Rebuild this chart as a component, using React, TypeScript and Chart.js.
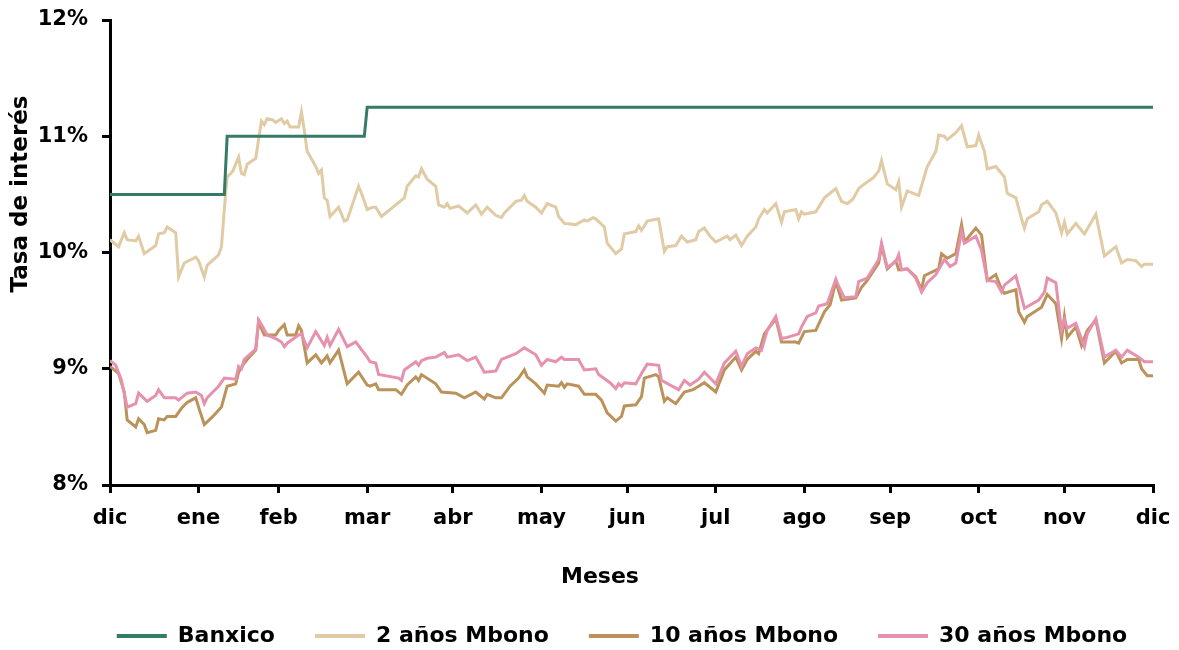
import React, { useEffect, useRef } from 'react';
import { Chart, registerables } from 'chart.js';

Chart.register(...registerables);

// ---------- axis ticks ----------
const monthTickDays = [0, 31, 59, 90, 120, 151, 181, 212, 243, 273, 304, 334, 365];
const monthLabels = ['dic', 'ene', 'feb', 'mar', 'abr', 'may', 'jun', 'jul', 'ago', 'sep', 'oct', 'nov', 'dic'];
const yMin = 8;
const yMax = 12;
const yStep = 1;

const xTitle = 'Meses';
const yTitle = 'Tasa de interés';
const seriesNames = ['Banxico', '2 años Mbono', '10 años Mbono', '30 años Mbono'];

// ---------- Banxico ----------
const banxicoDays = [0, 40, 41, 89, 90, 365];
const banxicoRate = [10.5, 10.5, 11.0, 11.0, 11.25, 11.25];

// ---------- 2 años Mbono ----------
const days2y = [
  0, 3, 5, 6, 9, 10, 12, 16, 17, 19, 20, 23, 24, 26, 30, 31, 33, 34, 38, 39,
  40, 41, 43, 45, 46, 47, 48, 51, 53, 54, 55, 57, 58, 60, 61, 62, 63, 65, 66, 67,
  68, 69, 72, 73, 74, 75, 76, 77, 80, 82, 83, 87, 88, 90, 92, 93, 95, 100, 103, 104,
  107, 108, 109, 111, 114, 115, 117, 118, 119, 122, 125, 128, 130, 132, 135, 137, 138, 142, 144, 145,
  146, 149, 151, 153, 156, 157, 159, 163, 166, 167, 169, 170, 173, 174, 177, 179, 180, 182, 184, 185,
  186, 188, 192, 194, 195, 198, 200, 202, 205, 206, 208, 210, 212, 216, 217, 219, 221, 223, 226, 227,
  229, 230, 233, 235, 236, 240, 241, 242, 243, 247, 250, 251, 254, 256, 258, 260, 262, 264, 267, 269,
  270, 272, 275, 276, 277, 279, 283, 286, 289, 290, 292, 293, 296, 298, 300, 303, 304, 306, 307, 310,
  313, 314, 317, 319, 320, 321, 325, 326, 328, 331, 333, 334, 335, 338, 341, 345, 348, 352, 354, 356,
  359, 361, 362, 365,
];
const rate2y = [
  10.11, 10.05, 10.17, 10.11, 10.10, 10.14, 9.99, 10.06, 10.16, 10.17, 10.22, 10.17, 9.79, 9.91, 9.96, 9.93, 9.79, 9.89, 9.98, 10.05,
  10.37, 10.65, 10.70, 10.82, 10.68, 10.67, 10.76, 10.81, 11.13, 11.10, 11.15, 11.14, 11.12, 11.15, 11.11, 11.13, 11.08, 11.08, 11.08, 11.21,
  11.05, 10.87, 10.74, 10.68, 10.71, 10.47, 10.45, 10.31, 10.39, 10.27, 10.28, 10.57, 10.51, 10.37, 10.39, 10.39, 10.31, 10.41, 10.47, 10.57,
  10.66, 10.65, 10.72, 10.63, 10.57, 10.41, 10.39, 10.42, 10.38, 10.40, 10.34, 10.41, 10.33, 10.39, 10.32, 10.30, 10.34, 10.44, 10.45, 10.49,
  10.44, 10.39, 10.34, 10.42, 10.39, 10.31, 10.25, 10.24, 10.28, 10.27, 10.30, 10.29, 10.22, 10.08, 9.99, 10.03, 10.16, 10.17, 10.18, 10.23,
  10.19, 10.27, 10.29, 10.01, 10.05, 10.06, 10.14, 10.09, 10.11, 10.18, 10.21, 10.14, 10.09, 10.14, 10.11, 10.15, 10.06, 10.14, 10.22, 10.29,
  10.37, 10.34, 10.42, 10.26, 10.35, 10.37, 10.29, 10.35, 10.33, 10.35, 10.47, 10.49, 10.55, 10.44, 10.42, 10.46, 10.55, 10.59, 10.64, 10.70,
  10.79, 10.59, 10.54, 10.61, 10.39, 10.53, 10.49, 10.74, 10.87, 11.01, 11.00, 10.97, 11.03, 11.09, 10.91, 10.92, 11.01, 10.87, 10.72, 10.74,
  10.65, 10.51, 10.47, 10.29, 10.21, 10.29, 10.35, 10.41, 10.44, 10.34, 10.17, 10.26, 10.16, 10.25, 10.16, 10.33, 9.97, 10.05, 9.91, 9.94,
  9.93, 9.88, 9.90, 9.90,
];

// ---------- 10 años Mbono ----------
const days10y = [
  0, 3, 5, 6, 9, 10, 12, 13, 16, 17, 19, 20, 23, 25, 27, 30, 31, 33, 36, 39,
  41, 44, 45, 47, 48, 51, 52, 54, 58, 59, 61, 62, 65, 66, 67, 69, 72, 74, 76, 77,
  80, 83, 87, 90, 91, 93, 94, 100, 102, 104, 107, 108, 109, 114, 116, 121, 124, 128, 131, 132,
  135, 137, 140, 143, 145, 146, 149, 152, 153, 157, 158, 159, 160, 164, 166, 170, 172, 174, 177, 179,
  180, 184, 186, 187, 191, 192, 194, 195, 198, 201, 204, 206, 208, 209, 212, 215, 219, 221, 223, 226,
  227, 229, 233, 235, 240, 241, 243, 247, 250, 252, 254, 256, 261, 263, 265, 269, 270, 272, 275, 276,
  279, 282, 284, 285, 290, 291, 293, 296, 298, 299, 303, 305, 307, 310, 312, 313, 317, 318, 320, 321,
  326, 328, 331, 333, 334, 335, 338, 340, 342, 345, 348, 352, 354, 356, 360, 361, 363, 365,
];
const rate10y = [
  9.02, 8.96, 8.80, 8.56, 8.50, 8.57, 8.52, 8.45, 8.47, 8.57, 8.56, 8.59, 8.59, 8.66, 8.71, 8.75, 8.67, 8.52, 8.59, 8.67,
  8.85, 8.87, 8.97, 9.05, 9.08, 9.16, 9.40, 9.29, 9.29, 9.33, 9.38, 9.29, 9.29, 9.37, 9.33, 9.05, 9.12, 9.05, 9.11, 9.05,
  9.16, 8.87, 8.97, 8.86, 8.85, 8.87, 8.82, 8.82, 8.78, 8.86, 8.93, 8.90, 8.95, 8.87, 8.80, 8.79, 8.75, 8.80, 8.74, 8.78,
  8.75, 8.75, 8.85, 8.92, 8.99, 8.93, 8.87, 8.79, 8.86, 8.85, 8.88, 8.84, 8.87, 8.85, 8.78, 8.78, 8.73, 8.62, 8.55, 8.59,
  8.68, 8.69, 8.76, 8.92, 8.95, 8.93, 8.72, 8.75, 8.70, 8.80, 8.82, 8.85, 8.88, 8.86, 8.80, 8.99, 9.10, 8.99, 9.08, 9.15,
  9.13, 9.30, 9.43, 9.23, 9.23, 9.22, 9.32, 9.33, 9.49, 9.55, 9.75, 9.59, 9.61, 9.70, 9.76, 9.91, 10.06, 9.86, 9.93, 9.85,
  9.86, 9.79, 9.68, 9.80, 9.86, 9.99, 9.95, 9.99, 10.24, 10.09, 10.21, 10.15, 9.76, 9.81, 9.68, 9.65, 9.68, 9.49, 9.40, 9.45,
  9.53, 9.64, 9.56, 9.26, 9.45, 9.27, 9.36, 9.20, 9.33, 9.42, 9.05, 9.15, 9.05, 9.08, 9.08, 9.00, 8.94, 8.94,
];

// ---------- 30 años Mbono ----------
const days30y = [
  0, 2, 4, 6, 9, 10, 13, 16, 17, 19, 23, 24, 27, 30, 32, 33, 34, 38, 40, 44,
  45, 46, 47, 51, 52, 53, 55, 58, 60, 61, 62, 66, 67, 69, 72, 75, 76, 77, 80, 83,
  86, 90, 91, 93, 94, 101, 102, 103, 107, 108, 109, 111, 114, 117, 118, 122, 125, 128, 131, 135,
  137, 142, 145, 149, 151, 153, 156, 158, 159, 164, 166, 170, 171, 175, 177, 178, 179, 180, 184, 186,
  188, 192, 193, 196, 199, 201, 203, 206, 208, 210, 212, 215, 219, 221, 223, 226, 228, 230, 233, 235,
  237, 241, 242, 244, 247, 248, 251, 254, 255, 257, 261, 262, 265, 267, 269, 270, 272, 275, 276, 277,
  279, 282, 284, 286, 289, 292, 294, 296, 298, 299, 303, 305, 307, 310, 312, 313, 317, 318, 320, 325,
  327, 328, 331, 333, 334, 335, 338, 341, 342, 345, 348, 352, 354, 356, 360, 362, 365,
];
const rate30y = [
  9.07, 9.03, 8.90, 8.67, 8.70, 8.79, 8.72, 8.77, 8.82, 8.75, 8.75, 8.73, 8.79, 8.80, 8.77, 8.70, 8.75, 8.85, 8.92, 8.91,
  9.02, 9.00, 9.08, 9.17, 9.42, 9.38, 9.29, 9.26, 9.23, 9.19, 9.22, 9.29, 9.30, 9.18, 9.32, 9.20, 9.27, 9.20, 9.34, 9.19,
  9.23, 9.10, 9.06, 9.05, 8.95, 8.92, 8.90, 8.99, 9.06, 9.03, 9.07, 9.09, 9.10, 9.14, 9.10, 9.12, 9.07, 9.10, 8.97, 8.98,
  9.08, 9.13, 9.18, 9.12, 9.03, 9.08, 9.06, 9.10, 9.08, 9.08, 8.99, 9.00, 8.95, 8.88, 8.83, 8.87, 8.85, 8.88, 8.87, 8.96,
  9.04, 9.03, 8.90, 8.86, 8.82, 8.90, 8.86, 8.91, 8.97, 8.92, 8.87, 9.05, 9.15, 9.02, 9.13, 9.18, 9.16, 9.33, 9.45, 9.26,
  9.27, 9.30, 9.36, 9.45, 9.48, 9.54, 9.56, 9.77, 9.71, 9.61, 9.62, 9.75, 9.78, 9.86, 9.94, 10.08, 9.87, 9.92, 9.98, 9.85,
  9.86, 9.78, 9.66, 9.74, 9.81, 9.94, 9.88, 9.91, 10.18, 10.08, 10.14, 10.02, 9.76, 9.75, 9.66, 9.72, 9.80, 9.71, 9.52, 9.59,
  9.66, 9.78, 9.74, 9.33, 9.42, 9.35, 9.39, 9.19, 9.30, 9.43, 9.10, 9.16, 9.10, 9.16, 9.10, 9.06, 9.06,
];

const seriesColors = ['#357C68', '#E0CBA4', '#BB925A', '#E691AD'];
const FONT = "'DejaVu Sans', 'Noto Sans', sans-serif";

const toPoints = (days: number[], vals: number[]) => days.map((x, i) => ({ x, y: vals[i] }));

export default function App() {
  const canvasRef = useRef<HTMLCanvasElement | null>(null);

  useEffect(() => {
    document.body.style.margin = '0';
    const canvas = canvasRef.current;
    if (!canvas) return;

    const titlesPlugin = {
      id: 'axisTitlesPlugin',
      afterDraw(chart: any) {
        const c = chart.ctx as CanvasRenderingContext2D;
        c.save();
        c.fillStyle = '#000';
        c.textAlign = 'center';
        c.textBaseline = 'middle';
        c.font = `bold 22px ${FONT}`;
        c.fillText(xTitle, 600, 577);
        c.translate(21, 194);
        c.rotate(-Math.PI / 2);
        c.font = `bold 23px ${FONT}`;
        c.fillText(yTitle, 0, 0);
        c.restore();
      },
    };

    const common = { pointRadius: 0, borderWidth: 3, tension: 0, fill: false };
    const allDays = [banxicoDays, days2y, days10y, days30y];
    const allVals = [banxicoRate, rate2y, rate10y, rate30y];
    const drawOrder = [0, 1, 3, 2];

    const datasets = seriesNames.map((name, i) => ({
      ...common,
      label: name,
      data: toPoints(allDays[i], allVals[i]),
      borderColor: seriesColors[i],
      backgroundColor: seriesColors[i],
      order: drawOrder[i],
    }));

    const tickFont = { family: FONT, size: 21, weight: 'bold' as const };
    const axisGrid = { drawOnChartArea: false, drawTicks: true, tickLength: 8, color: '#000', lineWidth: 3 };
    const axisBorder = { display: true, color: '#000', width: 3 };

    const chart = new Chart(canvas, {
      type: 'line',
      data: { datasets },
      plugins: [titlesPlugin],
      options: {
        responsive: false,
        animation: false,
        devicePixelRatio: 1,
        events: [],
        layout: { padding: { left: 0, right: -65, top: 20, bottom: -7 } },
        plugins: {
          tooltip: { enabled: false },
          legend: {
            position: 'bottom',
            align: 'center',
            labels: {
              boxWidth: 50,
              boxHeight: 4,
              padding: 40,
              color: '#000',
              font: { family: FONT, size: 22, weight: 'bold' },
              sort: (a: any, b: any) => a.datasetIndex - b.datasetIndex,
              generateLabels: (ch: any) => {
                const base = Chart.defaults.plugins.legend.labels.generateLabels(ch);
                return base.map((item: any) => ({
                  ...item,
                  fillStyle: seriesColors[item.datasetIndex],
                  strokeStyle: seriesColors[item.datasetIndex],
                  lineWidth: 0,
                }));
              },
            },
          },
        },
        scales: {
          x: {
            type: 'linear',
            min: monthTickDays[0],
            max: monthTickDays[monthTickDays.length - 1],
            afterBuildTicks: (scale: any) => {
              scale.ticks = monthTickDays.map((value) => ({ value }));
            },
            afterFit: (scale: any) => {
              scale.height = 100;
              scale.paddingRight = 26;
              scale.paddingLeft = 0;
            },
            ticks: {
              autoSkip: false,
              maxRotation: 0,
              padding: 13,
              color: '#000',
              font: tickFont,
              callback: (_v: any, index: number) => monthLabels[index],
            },
            grid: axisGrid,
            border: axisBorder,
          },
          y: {
            min: yMin,
            max: yMax,
            afterFit: (scale: any) => {
              scale.width = 110;
              scale.paddingTop = 0;
              scale.paddingBottom = 0;
            },
            ticks: {
              stepSize: yStep,
              padding: 14,
              color: '#000',
              font: tickFont,
              callback: (v: any) => `${v}%`,
            },
            grid: axisGrid,
            border: axisBorder,
          },
        },
      },
    } as any);

    return () => chart.destroy();
  }, []);

  return (
    <div style={{ width: 1179, height: 650 }}>
      <canvas ref={canvasRef} width={1179} height={650} style={{ display: 'block' }} />
    </div>
  );
}
